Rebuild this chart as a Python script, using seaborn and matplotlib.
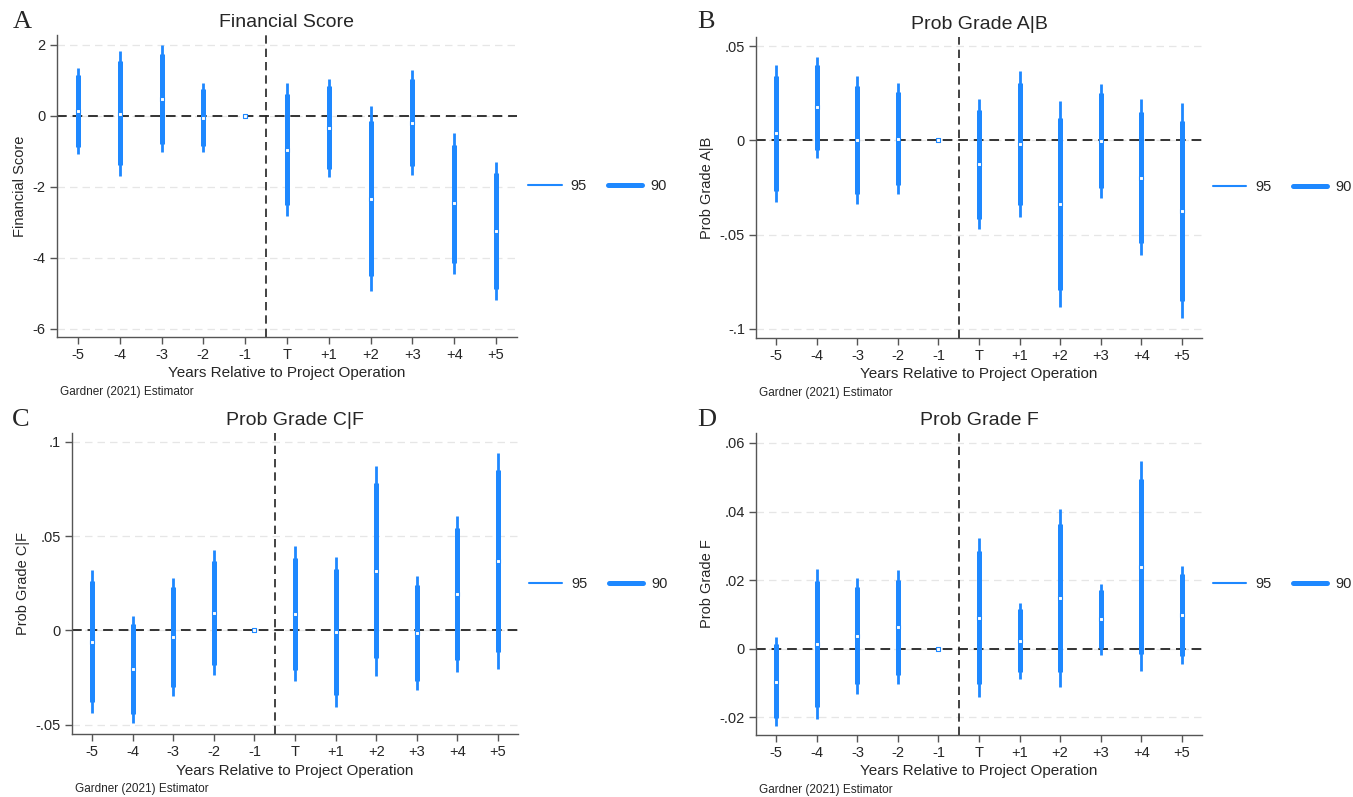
import pandas as pd
import seaborn as sns
import matplotlib.pyplot as plt
from matplotlib.lines import Line2D

# Event-time labels
periods = ['-5', '-4', '-3', '-2', '-1', 'T', '+1', '+2', '+3', '+4', '+5']

# A: Financial Score
fin_est = [0.13, 0.05, 0.49, -0.05, 0, -0.95, -0.33, -2.34, -0.20, -2.46, -3.24]
fin_lo95 = [-1.08, -1.69, -1.02, -1.02, 0, -2.82, -1.72, -4.94, -1.66, -4.45, -5.18]
fin_hi95 = [1.35, 1.82, 1.99, 0.93, 0, 0.93, 1.05, 0.27, 1.29, -0.48, -1.29]
fin_lo90 = [-0.87, -1.39, -0.78, -0.86, 0, -2.52, -1.49, -4.52, -1.42, -4.14, -4.87]
fin_hi90 = [1.15, 1.54, 1.76, 0.77, 0, 0.63, 0.84, -0.15, 1.03, -0.81, -1.60]

# B: Prob Grade A|B
ab_est = [0.0039, 0.0177, 0.0, 0.0009, 0, -0.0127, -0.0021, -0.0337, -0.0004, -0.0198, -0.0373]
ab_lo95 = [-0.0325, -0.0092, -0.0336, -0.0286, 0, -0.0472, -0.0406, -0.0883, -0.0304, -0.061, -0.0945]
ab_hi95 = [0.0403, 0.0445, 0.0345, 0.0304, 0, 0.0221, 0.0371, 0.0212, 0.030, 0.0219, 0.020]
ab_lo90 = [-0.0269, -0.0049, -0.0283, -0.0239, 0, -0.0417, -0.0345, -0.0795, -0.0253, -0.0544, -0.0852]
ab_hi90 = [0.0345, 0.0403, 0.029, 0.0256, 0, 0.0164, 0.0307, 0.012, 0.0251, 0.015, 0.0106]

# C: Prob Grade C|F
cf_est = [-0.006, -0.0205, -0.0035, 0.0095, 0, 0.0087, -0.0009, 0.0314, -0.0014, 0.0193, 0.0366]
cf_lo95 = [-0.0438, -0.0488, -0.0346, -0.0237, 0, -0.0267, -0.0403, -0.024, -0.0316, -0.0221, -0.0205]
cf_hi95 = [0.0322, 0.0078, 0.0277, 0.0424, 0, 0.0445, 0.0387, 0.0869, 0.029, 0.0608, 0.094]
cf_lo90 = [-0.0378, -0.0443, -0.0297, -0.0182, 0, -0.0208, -0.0341, -0.0147, -0.0267, -0.0154, -0.0115]
cf_hi90 = [0.026, 0.0034, 0.0228, 0.0369, 0, 0.0383, 0.0325, 0.0779, 0.024, 0.0542, 0.0848]

# D: Prob Grade F
f_est = [-0.0097, 0.0013, 0.0037, 0.0062, 0, 0.009, 0.0023, 0.0147, 0.0086, 0.0239, 0.0097]
f_lo95 = [-0.0226, -0.0206, -0.0132, -0.0103, 0, -0.014, -0.0088, -0.0111, -0.0018, -0.0064, -0.0045]
f_hi95 = [0.0033, 0.0233, 0.0207, 0.0228, 0, 0.0322, 0.0134, 0.0407, 0.0189, 0.0546, 0.0241]
f_lo90 = [-0.0203, -0.0171, -0.0103, -0.0077, 0, -0.0104, -0.0068, -0.0069, 0.0001, -0.0016, -0.0021]
f_hi90 = [0.0013, 0.0198, 0.0179, 0.02, 0, 0.0285, 0.0116, 0.0364, 0.0171, 0.0495, 0.0218]

# axis ticks per panel
fin_ticks = [-6, -4, -2, 0, 2]
fin_ticklabels = ['-6', '-4', '-2', '0', '2']
ab_ticks = [-0.1, -0.05, 0, 0.05]
ab_ticklabels = ['-.1', '-.05', '0', '.05']
cf_ticks = [-0.05, 0, 0.05, 0.1]
cf_ticklabels = ['-.05', '0', '.05', '.1']
f_ticks = [-0.02, 0, 0.02, 0.04, 0.06]
f_ticklabels = ['-.02', '0', '.02', '.04', '.06']

sns.set_theme(style="white")
plt.rcParams['font.family'] = ['Liberation Sans', 'DejaVu Sans']

blue = '#1E88FF'

panels = [
    dict(letter='A', title='Financial Score', est=fin_est, lo95=fin_lo95, hi95=fin_hi95,
         lo90=fin_lo90, hi90=fin_hi90, ticks=fin_ticks, labels=fin_ticklabels,
         ylim=(-6.24, 2.28), rect=[0.0421, 0.577, 0.3400, 0.379], letter_xy=(0.0096, 0.972)),
    dict(letter='B', title='Prob Grade A|B', est=ab_est, lo95=ab_lo95, hi95=ab_hi95,
         lo90=ab_lo90, hi90=ab_hi90, ticks=ab_ticks, labels=ab_ticklabels,
         ylim=(-0.105, 0.055), rect=[0.5588, 0.5759, 0.3296, 0.3777], letter_xy=(0.515, 0.972)),
    dict(letter='C', title='Prob Grade C|F', est=cf_est, lo95=cf_lo95, hi95=cf_hi95,
         lo90=cf_lo90, hi90=cf_hi90, ticks=cf_ticks, labels=cf_ticklabels,
         ylim=(-0.055, 0.1046), rect=[0.0532, 0.0787, 0.3297, 0.3780], letter_xy=(0.0089, 0.473)),
    dict(letter='D', title='Prob Grade F', est=f_est, lo95=f_lo95, hi95=f_hi95,
         lo90=f_lo90, hi90=f_hi90, ticks=f_ticks, labels=f_ticklabels,
         ylim=(-0.0252, 0.0629), rect=[0.5588, 0.0778, 0.3296, 0.3789], letter_xy=(0.515, 0.473)),
]

fig = plt.figure(figsize=(13.53, 7.97), dpi=100)
fig.patch.set_facecolor('white')

for p in panels:
    ax = fig.add_axes(p['rect'])
    df = pd.DataFrame({'period': periods, 'pos': range(len(periods)), 'est': p['est'],
                       'lo95': p['lo95'], 'hi95': p['hi95'], 'lo90': p['lo90'], 'hi90': p['hi90']})

    # light grid at the y ticks
    for t in p['ticks']:
        ax.axhline(t, color='#e6e6e6', lw=0.9, ls=(0, (6, 4)), zorder=0)
    ax.axhline(0, color='#333333', lw=1.4, ls=(0, (5, 3)), zorder=1)
    ax.axvline(4.5, color='#222222', lw=1.2, ls=(0, (5, 3)), zorder=1)

    ax.vlines(df['pos'], df['lo95'], df['hi95'], color=blue, lw=2.0, zorder=2)
    ax.vlines(df['pos'], df['lo90'], df['hi90'], color=blue, lw=3.6, zorder=3)
    sns.scatterplot(data=df, x='pos', y='est', ax=ax, marker='s', s=9,
                    color='white', edgecolor=blue, linewidth=0.8, zorder=4, legend=False)

    ax.set_xlim(-0.5, 10.5)
    ax.set_ylim(*p['ylim'])
    ax.set_xticks(range(len(periods)))
    ax.set_xticklabels(periods)
    ax.set_yticks(p['ticks'])
    ax.set_yticklabels(p['labels'])
    ax.set_xlabel('Years Relative to Project Operation', fontsize=11, labelpad=3)
    ax.set_ylabel(p['title'], fontsize=10.5, labelpad=4)
    ax.set_title(p['title'], fontsize=14, pad=6)

    for s in ['top', 'right']:
        ax.spines[s].set_visible(False)
    for s in ['left', 'bottom']:
        ax.spines[s].set_color('#555555')
        ax.spines[s].set_linewidth(1.0)
    ax.tick_params(axis='both', which='both', length=5, width=1, color='#555555',
                   labelsize=10.5, direction='out', bottom=True, left=True, pad=3)
    ax.grid(False)

    handles = [Line2D([0], [0], color=blue, lw=1.5), Line2D([0], [0], color=blue, lw=3.6)]
    ax.legend(handles, ['95', '90'], loc='center left', bbox_to_anchor=(1.024, 0.5), ncol=2,
              frameon=False, fontsize=10.5, handlelength=2.3, columnspacing=1.5,
              handletextpad=0.6, borderpad=0, borderaxespad=0)

    x0, y0, w, h = p['rect']
    fig.text(p['letter_xy'][0], p['letter_xy'][1], p['letter'], fontsize=19,
             family='Liberation Serif', ha='left', va='center')
    fig.text(x0 + 0.002, y0 - 0.069, 'Gardner (2021) Estimator', fontsize=8.5,
             ha='left', va='center')

fig.savefig('out.png', dpi=100, facecolor='white')
